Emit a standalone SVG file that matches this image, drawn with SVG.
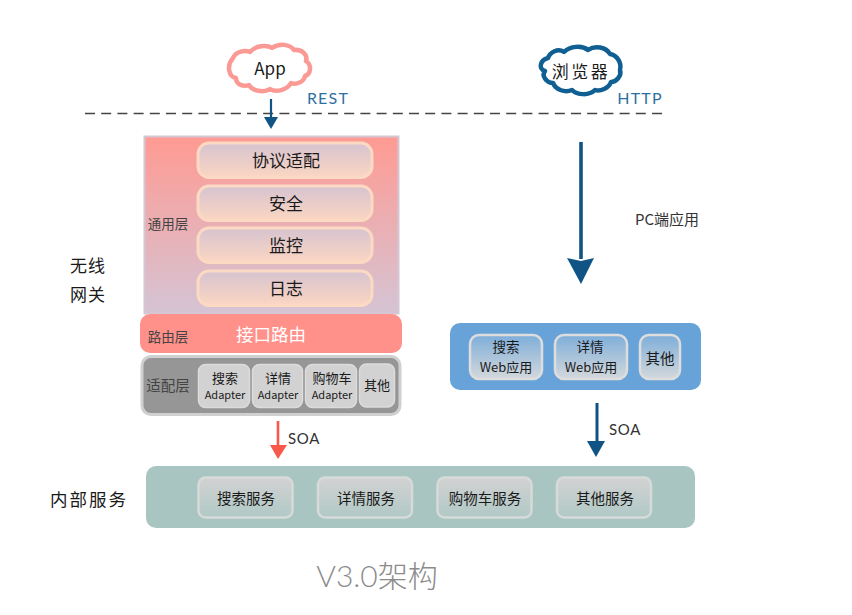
<svg xmlns="http://www.w3.org/2000/svg" width="852" height="615" viewBox="0 0 852 615">
<style>
text{font-family:"Noto Sans CJK SC","Noto Sans",sans-serif;fill:#1a1a1a;text-anchor:middle;dominant-baseline:central}
.lat{font-family:"Lato","Noto Sans",sans-serif;font-weight:400}
.blue{fill:#2f70a3;font-size:16px;letter-spacing:1.2px}
.soa{font-size:15px;fill:#333;letter-spacing:.6px}
.gen{fill:url(#gp);stroke:#fbd9c3;stroke-width:3}
.ad{fill:#d2d2d2;stroke:#dcdcdc;stroke-width:1.5}
.web{fill:url(#gb);stroke:#dddddd;stroke-width:2.5}
.svc{fill:url(#gt);stroke:#d6dad8;stroke-width:2.5}
.c{fill:#fff;stroke-width:4.5;stroke-linejoin:round}
.h17{font-size:17px}.s11{font-size:13px}.s10{font-size:11px}.w1{font-size:13.5px}.w2{font-size:13px}.sv{font-size:14.5px}
</style>
<defs>
<linearGradient id="gm" x1="0" y1="0" x2="0" y2="1"><stop offset="0" stop-color="#ff9a92"/><stop offset="1" stop-color="#d5c4d4"/></linearGradient>
<linearGradient id="gp" x1="0" y1="0" x2="0" y2="1"><stop offset="0" stop-color="#d6c3d0"/><stop offset="1" stop-color="#fbd6c2"/></linearGradient>
<linearGradient id="gb" x1="0" y1="0" x2="0" y2="1"><stop offset="0" stop-color="#7eaed9"/><stop offset="1" stop-color="#d4d8dc"/></linearGradient>
<linearGradient id="gt" x1="0" y1="0" x2="0" y2="1"><stop offset="0" stop-color="#d2d2d2"/><stop offset="1" stop-color="#b0c9c6"/></linearGradient>
</defs>
<g id="connectors">
<line x1="85" y1="113.500" x2="666" y2="113.500" stroke="#444" stroke-width="1.6" stroke-dasharray="10 6.200"/>
<path d="M271 99V119" stroke="#0f5485" stroke-width="2.200" fill="none"/><path d="M264 117H278L271 129Z" fill="#0f5485"/>
<path d="M581 142V259" stroke="#0f5485" stroke-width="3.600" fill="none"/><path d="M567 258L581 261L594 258L581 284Z" fill="#0f5485"/>
<path d="M278 421V447" stroke="#f8594a" stroke-width="2.600" fill="none"/><path d="M270 445H287L278 459Z" fill="#f8594a"/>
<path d="M597 403V443" stroke="#0f5485" stroke-width="3" fill="none"/><path d="M587 441H605L596 457Z" fill="#0f5485"/>
</g>
<g id="app">
<path class="c" stroke="#fb9a94" d="M233 58C236 51 245 50 250 52C255 46 266 44 272 48C279 43 290 44 294 50C302 49 308 55 306 61C312 65 311 74 305 76C304 82 296 85 291 83C287 90 276 93 270 89C264 93 252 91 249 85C244 87 236 85 236 78C229 77 226 66 233 58Z"/>
<text x="270" y="67" font-size="17">App</text>
</g>
<g id="browser">
<path class="c" stroke="#0f5f92" d="M548 58C550 52 558 48 564 52C570 46 582 45 588 50C595 45 606 47 610 54C617 55 622 63 620 70C622 76 616 82 611 82C609 88 600 92 595 90C589 96 577 95 572 90C565 93 556 90 553 83C547 83 541 76 545 71C538 69 540 60 548 58Z"/>
<text x="581" y="70" font-size="17" letter-spacing="2.500">浏览器</text>
</g>
<text class="lat blue" x="328" y="97">REST</text>
<text class="lat blue" x="640" y="97">HTTP</text>
<text x="667" y="218" font-size="15" style="fill:#333">PC端应用</text>
<text x="88" y="264" font-size="17" letter-spacing="1">无线</text>
<text x="88" y="293" font-size="17" letter-spacing="1">网关</text>
<g id="general-layer">
<rect x="144.500" y="136.500" width="254" height="177" fill="url(#gm)" stroke="#d5c6d4" stroke-width="2"/>
<text x="168" y="223" font-size="13.500" style="fill:#444">通用层</text>
</g>
<g id="protocol"><rect class="gen" x="198" y="143" width="174" height="34.500" rx="11"/><text class="h17" x="286" y="159">协议适配</text></g>
<g id="security"><rect class="gen" x="198" y="186" width="174" height="34.500" rx="11"/><text class="h17" x="286" y="202.500">安全</text></g>
<g id="monitor"><rect class="gen" x="198" y="228" width="174" height="34.500" rx="11"/><text class="h17" x="286" y="244.500">监控</text></g>
<g id="log"><rect class="gen" x="198" y="271" width="174" height="34.500" rx="11"/><text class="h17" x="286" y="287.500">日志</text></g>
<g id="router"><rect x="140" y="314" width="262" height="39" rx="10" fill="#ff918a"/>
<text x="168" y="336" font-size="13.500" style="fill:#444">路由层</text><text x="271" y="333" font-size="17.500" style="fill:#fff">接口路由</text></g>
<g id="adapter-layer"><rect x="142" y="356.500" width="258" height="58" rx="9" fill="#969696" stroke="#d0d0d0" stroke-width="3"/>
<text x="168" y="384" font-size="14.500" style="fill:#444">适配层</text></g>
<g id="a1"><rect class="ad" x="198.500" y="364.500" width="51" height="43" rx="7"/><text class="s11" x="225" y="377">搜索</text><text class="s10" x="225" y="393.500">Adapter</text></g>
<g id="a2"><rect class="ad" x="252.500" y="364.500" width="50" height="43" rx="7"/><text class="s11" x="278" y="377">详情</text><text class="s10" x="278" y="393.500">Adapter</text></g>
<g id="a3"><rect class="ad" x="305.500" y="364.500" width="51" height="43" rx="7"/><text class="s11" x="332" y="377">购物车</text><text class="s10" x="332" y="393.500">Adapter</text></g>
<g id="a4"><rect class="ad" x="359.500" y="364" width="35" height="43" rx="7"/><text class="s11" x="377" y="384.500">其他</text></g>
<text class="lat soa" x="304" y="438">SOA</text>
<g id="web-layer"><rect x="450" y="323" width="251" height="67" rx="10" fill="#67a3d8"/></g>
<g id="w1"><rect class="web" x="470" y="335" width="72" height="44" rx="9"/><text class="w1" x="506" y="346">搜索</text><text class="w2" x="506" y="366">Web应用</text></g>
<g id="w2"><rect class="web" x="555" y="335" width="72" height="44" rx="9"/><text class="w1" x="590" y="346">详情</text><text class="w2" x="591" y="366">Web应用</text></g>
<g id="w3"><rect class="web" x="640" y="335" width="40" height="44" rx="9"/><text style="font-size:14.500px" x="660" y="357">其他</text></g>
<text class="lat soa" x="625" y="429">SOA</text>
<g id="services"><rect x="146" y="466" width="549" height="62" rx="10" fill="#a8c5c1"/>
<text x="89" y="498" font-size="17.500" letter-spacing="2">内部服务</text></g>
<g id="s1"><rect class="svc" x="198.500" y="477.500" width="94" height="40" rx="7"/><text class="sv" x="246" y="497">搜索服务</text></g>
<g id="s2"><rect class="svc" x="318" y="477.500" width="94" height="40" rx="7"/><text class="sv" x="366" y="497">详情服务</text></g>
<g id="s3"><rect class="svc" x="437.500" y="477.500" width="94" height="40" rx="7"/><text class="sv" x="485" y="497">购物车服务</text></g>
<g id="s4"><rect class="svc" x="557" y="477.500" width="94" height="40" rx="7"/><text class="sv" x="605" y="497">其他服务</text></g>
<text x="377" y="575" font-size="30" style="fill:#8b8b8b;font-family:'Lato','Noto Sans CJK SC',sans-serif;font-weight:300">V3.0架构</text>
</svg>
